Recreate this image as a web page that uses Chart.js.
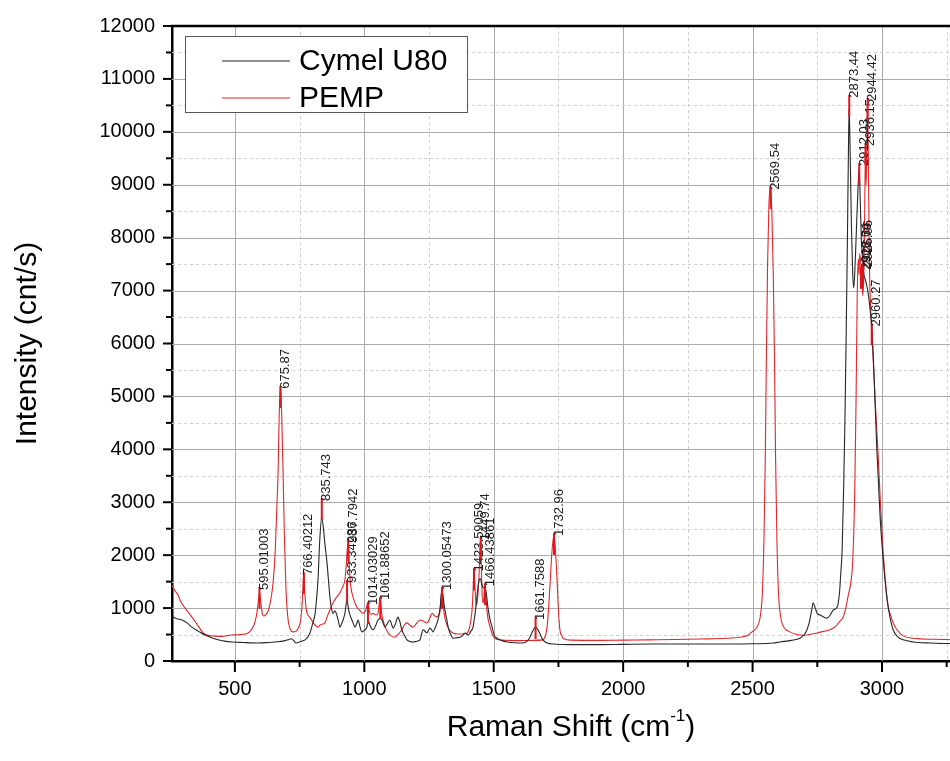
<!DOCTYPE html>
<html>
<head>
<meta charset="utf-8">
<title>Raman spectra</title>
<script src="https://cdn.jsdelivr.net/npm/chart.js@4.4.1/dist/chart.umd.min.js"></script>
<style>
  html, body { margin: 0; padding: 0; background: #fff; overflow: hidden; }
  #wrap { position: absolute; left: 0; top: 0; width: 970px; height: 761px; }
</style>
</head>
<body>
<div id="wrap"><canvas id="ramanChart" width="970" height="761"></canvas></div>
<script>
// ========== DATA ==========
const cymelShift = [257, 275, 296, 315, 334, 360, 385, 410, 435, 460, 489, 530, 589, 630, 655, 690, 705, 718, 728, 736,
  755, 771, 781, 790, 800, 810, 816, 821, 828, 835, 841, 848, 856, 862, 867, 873, 879, 886, 893, 900,
  906, 912, 918, 925, 933, 940, 946, 952, 958, 964, 970, 976, 983, 991, 1000, 1010, 1014, 1020, 1027, 1034,
  1042, 1053, 1060, 1068, 1074, 1080, 1088, 1099, 1105, 1111, 1120, 1130, 1137, 1145, 1155, 1165, 1175, 1188, 1200, 1215,
  1227, 1235, 1242, 1248, 1254, 1260, 1265, 1273, 1281, 1288, 1293, 1300, 1306, 1312, 1319, 1325, 1331, 1337, 1342, 1355,
  1370, 1380, 1389, 1395, 1401, 1410, 1420, 1428, 1435, 1442, 1448, 1454, 1460, 1466, 1472, 1478, 1485, 1493, 1503, 1513,
  1530, 1552, 1580, 1614, 1630, 1640, 1650, 1661, 1670, 1680, 1690, 1706, 1730, 1800, 1900, 2000, 2100, 2200, 2300, 2400,
  2500, 2580, 2606, 2650, 2683, 2700, 2710, 2720, 2728, 2734, 2742, 2750, 2761, 2775, 2788, 2800, 2811, 2827, 2836, 2840,
  2846, 2852, 2857, 2862, 2866, 2870, 2873, 2877, 2882, 2887, 2891, 2897, 2903, 2908, 2912, 2916, 2920, 2925, 2930, 2936,
  2945, 2955, 2962, 2970, 2980, 2993, 3005, 3020, 3032, 3043, 3060, 3082, 3120, 3186, 3250, 3340];
const cymelIntensity = [840, 800, 775, 720, 640, 560, 490, 440, 400, 375, 360, 350, 340, 350, 360, 380, 400, 420, 380, 340,
  370, 400, 450, 530, 700, 900, 1200, 1530, 2300, 2700, 2550, 2200, 1850, 1500, 1210, 1000, 900, 950, 880, 750,
  640, 700, 775, 900, 1150, 950, 850, 775, 700, 640, 700, 775, 650, 550, 580, 640, 760, 700, 620, 590,
  650, 775, 800, 775, 700, 640, 700, 775, 700, 620, 700, 830, 750, 590, 480, 400, 370, 360, 370, 400,
  590, 560, 530, 580, 620, 590, 550, 620, 720, 850, 1020, 1350, 1150, 950, 775, 620, 530, 470, 430, 440,
  450, 480, 530, 510, 490, 550, 640, 900, 1210, 1500, 1560, 1450, 1380, 1400, 1250, 1000, 800, 650, 480, 430,
  390, 360, 345, 340, 380, 450, 560, 640, 600, 500, 400, 340, 320, 310, 310, 315, 320, 320, 320, 320,
  325, 340, 360, 390, 430, 500, 590, 750, 950, 1100, 1000, 900, 870, 830, 810, 870, 960, 1020, 1300, 1600,
  2100, 3300, 4600, 6300, 7800, 9500, 10450, 9600, 8200, 7300, 7050, 7600, 8400, 9000, 9300, 8700, 8000, 7600, 7300, 7200,
  7000, 6600, 6200, 5300, 4000, 2700, 1900, 1150, 800, 590, 460, 400, 360, 340, 330, 330];

const pempShift = [257, 268, 280, 290, 300, 315, 334, 350, 360, 377, 400, 423, 450, 470, 489, 520, 551, 565, 575, 583,
  590, 595, 600, 606, 612, 618, 624, 632, 640, 648, 656, 662, 667, 671, 676, 681, 686, 691, 697, 705,
  714, 724, 735, 745, 752, 758, 762, 766, 770, 775, 781, 790, 798, 806, 814, 821, 829, 840, 848, 856,
  866, 879, 892, 906, 916, 925, 930, 937, 943, 948, 952, 960, 971, 983, 995, 1005, 1014, 1020, 1027, 1034,
  1045, 1053, 1061, 1067, 1072, 1080, 1092, 1105, 1118, 1130, 1145, 1155, 1165, 1175, 1188, 1200, 1215, 1228, 1242, 1252,
  1262, 1270, 1281, 1288, 1293, 1300, 1306, 1312, 1318, 1323, 1332, 1342, 1355, 1370, 1385, 1397, 1405, 1411, 1416, 1420,
  1424, 1428, 1433, 1438, 1443, 1449, 1453, 1457, 1461, 1466, 1470, 1475, 1480, 1486, 1495, 1505, 1520, 1550, 1600, 1650,
  1690, 1700, 1706, 1712, 1718, 1724, 1733, 1739, 1745, 1750, 1756, 1763, 1770, 1800, 1900, 2000, 2100, 2200, 2300, 2400,
  2450, 2480, 2500, 2517, 2530, 2538, 2544, 2549, 2553, 2558, 2563, 2569, 2575, 2580, 2585, 2589, 2594, 2600, 2608, 2621,
  2640, 2670, 2695, 2720, 2749, 2775, 2799, 2820, 2835, 2850, 2860, 2870, 2880, 2888, 2895, 2900, 2904, 2908, 2911, 2914,
  2918, 2922, 2926, 2929, 2933, 2936, 2939, 2942, 2944, 2947, 2951, 2956, 2960, 2966, 2975, 2985, 2995, 3004, 3015, 3025,
  3031, 3045, 3058, 3080, 3120, 3200, 3340];
const pempIntensity = [1430, 1330, 1250, 1130, 1050, 950, 830, 720, 650, 530, 480, 470, 465, 480, 490, 500, 530, 600, 700, 850,
  1100, 1300, 1100, 900, 850, 870, 900, 1000, 1200, 1500, 2100, 2900, 3600, 4600, 5200, 4600, 3600, 2400, 1400, 800,
  600, 550, 560, 620, 720, 950, 1300, 1650, 1300, 1000, 880, 820, 760, 700, 660, 640, 680, 700, 720, 830,
  950, 1100, 1200, 1290, 1400, 1530, 1800, 2250, 1700, 1400, 1290, 1150, 1020, 950, 900, 950, 1100, 930, 880, 900,
  870, 900, 1200, 900, 775, 650, 530, 470, 450, 500, 590, 680, 720, 680, 640, 700, 775, 750, 720, 800,
  900, 860, 830, 880, 950, 1380, 1000, 800, 700, 640, 570, 530, 515, 510, 515, 530, 600, 750, 950, 1300,
  1750, 1350, 1050, 1200, 1600, 2300, 1600, 1100, 1150, 1450, 1200, 900, 750, 640, 500, 430, 400, 390, 385, 390,
  400, 480, 640, 1000, 1500, 2000, 2400, 2050, 1500, 950, 580, 470, 420, 395, 390, 395, 400, 405, 415, 430,
  450, 480, 560, 640, 850, 1300, 2300, 3800, 5600, 7500, 8600, 9000, 8400, 7300, 5600, 3800, 2300, 1300, 850, 640,
  560, 500, 485, 500, 530, 560, 590, 650, 740, 830, 1000, 1250, 1500, 2000, 3300, 5000, 6800, 7600, 7300, 7700,
  7500, 7300, 6900, 7200, 8400, 9700, 9000, 9800, 10600, 9700, 7600, 6700, 6300, 5700, 4800, 3900, 2900, 2100, 1400, 1000,
  900, 700, 590, 480, 430, 410, 400];

// peak labels: position of the label mark top and its text
const peakShift = [595.01, 675.87, 766.4, 835.74, 933.34, 937.79, 1014.03, 1061.89, 1300.05, 1423.59, 1449.74, 1466.44,
  1661.76, 1732.96, 2569.54, 2873.44, 2912.03, 2918.6, 2922.8, 2927.0, 2936.15, 2944.42, 2960.27];
const peakTop = [1400, 5200, 1680, 3080, 1530, 2290, 1115, 1210, 1400, 1750, 2340, 1470,
  830, 2420, 8960, 10700, 9410, 7450, 7450, 7500, 9790, 10640, 6380];
const peakText = ['595.01003', '675.87', '766.40212', '835.743', '933.34286', '937.7942', '1014.03029', '1061.88652',
  '1300.05473', '1423.59059', '1449.74', '1466.43861', '1661.7588', '1732.96', '2569.54', '2873.44', '2912.03',
  '2918.64', '2922.79', '2926.96', '2936.15', '2944.42', '2960.27'];

const xTicks = [500, 750, 1000, 1250, 1500, 1750, 2000, 2250, 2500, 2750, 3000, 3250];
const yTicks = [0, 500, 1000, 1500, 2000, 2500, 3000, 3500, 4000, 4500, 5000, 5500, 6000,
  6500, 7000, 7500, 8000, 8500, 9000, 9500, 10000, 10500, 11000, 11500, 12000];

const FONT = '"Liberation Sans", Arial, Helvetica, sans-serif';
Chart.defaults.font.family = FONT;

// ========== DECORATION (grid, ticks, legend, peak labels) ==========
const spectrumDecor = {
    id: "spectrumDecor",
    beforeDatasetsDraw(chart) {
        const { ctx, chartArea: a, scales: { x, y } } = chart;
        ctx.save();
        ctx.lineWidth = 1;
        x.ticks.forEach(t => {
            const px = Math.round(x.getPixelForValue(t.value)) + 0.5;
            if (px <= a.left + 1 || px >= a.right - 1) return;
            const major = t.value % 500 === 0;
            ctx.strokeStyle = major ? "#ababab" : "#cfcfcf";
            ctx.setLineDash(major ? [] : [3, 3]);
            ctx.beginPath(); ctx.moveTo(px, a.top); ctx.lineTo(px, a.bottom); ctx.stroke();
        });
        y.ticks.forEach(t => {
            const py = Math.round(y.getPixelForValue(t.value)) + 0.5;
            if (py <= a.top + 1 || py >= a.bottom - 1) return;
            const major = t.value % 1000 === 0;
            ctx.strokeStyle = major ? "#ababab" : "#cfcfcf";
            ctx.setLineDash(major ? [] : [3, 3]);
            ctx.beginPath(); ctx.moveTo(a.left, py); ctx.lineTo(a.right, py); ctx.stroke();
        });
        ctx.restore();
    },
    afterDatasetsDraw(chart) {
        const { ctx, scales: { x, y } } = chart;
        ctx.save();
        ctx.font = "13px " + FONT;
        peakShift.forEach((v, i) => {
            const px = x.getPixelForValue(v);
            const py = y.getPixelForValue(peakTop[i]);
            ctx.strokeStyle = "#e0141a";
            ctx.lineWidth = 2;
            ctx.beginPath(); ctx.moveTo(px, py); ctx.lineTo(px, py + 22); ctx.stroke();
            ctx.save();
            ctx.translate(px + 5, py + 3);
            ctx.rotate(-Math.PI / 2);
            ctx.fillStyle = "#1c1c1c";
            ctx.textAlign = "left";
            ctx.textBaseline = "middle";
            ctx.fillText(peakText[i], 0, 0);
            ctx.restore();
        });
        ctx.restore();
    },
    afterDraw(chart) {
        const { ctx, chartArea: a, scales: { x, y } } = chart;
        ctx.save();
        // top frame line
        ctx.strokeStyle = "#000";
        ctx.lineWidth = 2.5;
        ctx.beginPath(); ctx.moveTo(a.left - 1, a.top); ctx.lineTo(a.right, a.top); ctx.stroke();
        // outward tick marks
        ctx.lineWidth = 2;
        x.ticks.forEach(t => {
            const px = x.getPixelForValue(t.value);
            const len = t.value % 500 === 0 ? 11 : 6;
            ctx.beginPath(); ctx.moveTo(px, a.bottom); ctx.lineTo(px, a.bottom + len); ctx.stroke();
        });
        y.ticks.forEach(t => {
            const py = y.getPixelForValue(t.value);
            const len = t.value % 1000 === 0 ? 9 : 6;
            ctx.beginPath(); ctx.moveTo(a.left, py); ctx.lineTo(a.left - len, py); ctx.stroke();
        });

        // legend box
        const lx = a.left + 13, ly = a.top + 10;
        ctx.fillStyle = "#fff";
        ctx.fillRect(lx, ly, 282, 76);
        ctx.lineWidth = 1;
        ctx.strokeStyle = "#555";
        ctx.strokeRect(lx + 0.5, ly + 0.5, 282, 76);
        ctx.font = "30px " + FONT;
        ctx.textBaseline = "middle";
        ctx.textAlign = "left";
        chart.data.datasets.forEach((ds, i) => {
            const cy = ly + 25 + i * 37;
            ctx.strokeStyle = ds.borderColor;
            ctx.lineWidth = 1.2;
            ctx.beginPath(); ctx.moveTo(lx + 37, cy); ctx.lineTo(lx + 105, cy); ctx.stroke();
            ctx.fillStyle = "#000";
            ctx.fillText(ds.label, lx + 114, cy + 1);
        });

        // x axis title with superscript
        const main = "Raman Shift (cm", sup = "-1", tail = ")";
        ctx.font = "30px " + FONT;
        const w1 = ctx.measureText(main).width, w3 = ctx.measureText(tail).width;
        ctx.font = "17px " + FONT;
        const w2 = ctx.measureText(sup).width;
        const cx = (a.left + a.right) / 2;
        let tx = cx - (w1 + w2 + w3) / 2;
        const ty = 728;
        ctx.fillStyle = "#000";
        ctx.textBaseline = "middle";
        ctx.font = "30px " + FONT;
        ctx.fillText(main, tx, ty);
        tx += w1;
        ctx.font = "17px " + FONT;
        ctx.fillText(sup, tx, ty - 12);
        tx += w2;
        ctx.font = "30px " + FONT;
        ctx.fillText(tail, tx, ty);
        ctx.restore();
    }
};

// ========== CHART ==========
const ctx = document.getElementById("ramanChart").getContext("2d");
new Chart(ctx, {
    type: "line",
    data: {
        datasets: [{
            label: "Cymel U80",
            data: cymelShift.map((v, i) => ({ x: v, y: cymelIntensity[i] })),
            borderColor: "#262626",
            borderWidth: 1.1,
            pointRadius: 0,
            cubicInterpolationMode: "monotone",
            fill: false
        }, {
            label: "PEMP",
            data: pempShift.map((v, i) => ({ x: v, y: pempIntensity[i] })),
            borderColor: "#e3262a",
            borderWidth: 1.1,
            pointRadius: 0,
            cubicInterpolationMode: "monotone",
            fill: false
        }]
    },
    options: {
        responsive: false,
        animation: false,
        devicePixelRatio: 1,
        layout: { padding: { top: 26, right: 0, bottom: 0, left: 0 } },
        plugins: { legend: { display: false }, tooltip: { enabled: false } },
        scales: {
            x: {
                type: "linear",
                min: 257,
                max: 3340,
                afterBuildTicks: s => { s.ticks = xTicks.map(v => ({ value: v })); },
                afterFit: s => { s.height = 100; },
                ticks: {
                    autoSkip: false, maxRotation: 0, padding: 5, color: "#000",
                    font: { size: 20 },
                    callback: v => (v % 500 === 0 ? String(v) : "")
                },
                grid: { drawOnChartArea: false, tickLength: 11, tickColor: "rgba(0,0,0,0)" },
                border: { color: "#000", width: 2.5 }
            },
            y: {
                min: 0,
                max: 12000,
                afterBuildTicks: s => { s.ticks = yTicks.map(v => ({ value: v })); },
                afterFit: s => { s.width = 172; },
                ticks: {
                    autoSkip: false, padding: 8, color: "#000",
                    font: { size: 20 },
                    callback: v => (v % 1000 === 0 ? String(v) : "")
                },
                grid: { drawOnChartArea: false, tickLength: 9, tickColor: "rgba(0,0,0,0)" },
                border: { color: "#000", width: 2.5 },
                title: {
                    display: true, text: "Intensity (cnt/s)", color: "#000",
                    font: { size: 30 }, padding: { top: 10, bottom: 0 }
                }
            }
        }
    },
    plugins: [spectrumDecor]
});
</script>
</body>
</html>
